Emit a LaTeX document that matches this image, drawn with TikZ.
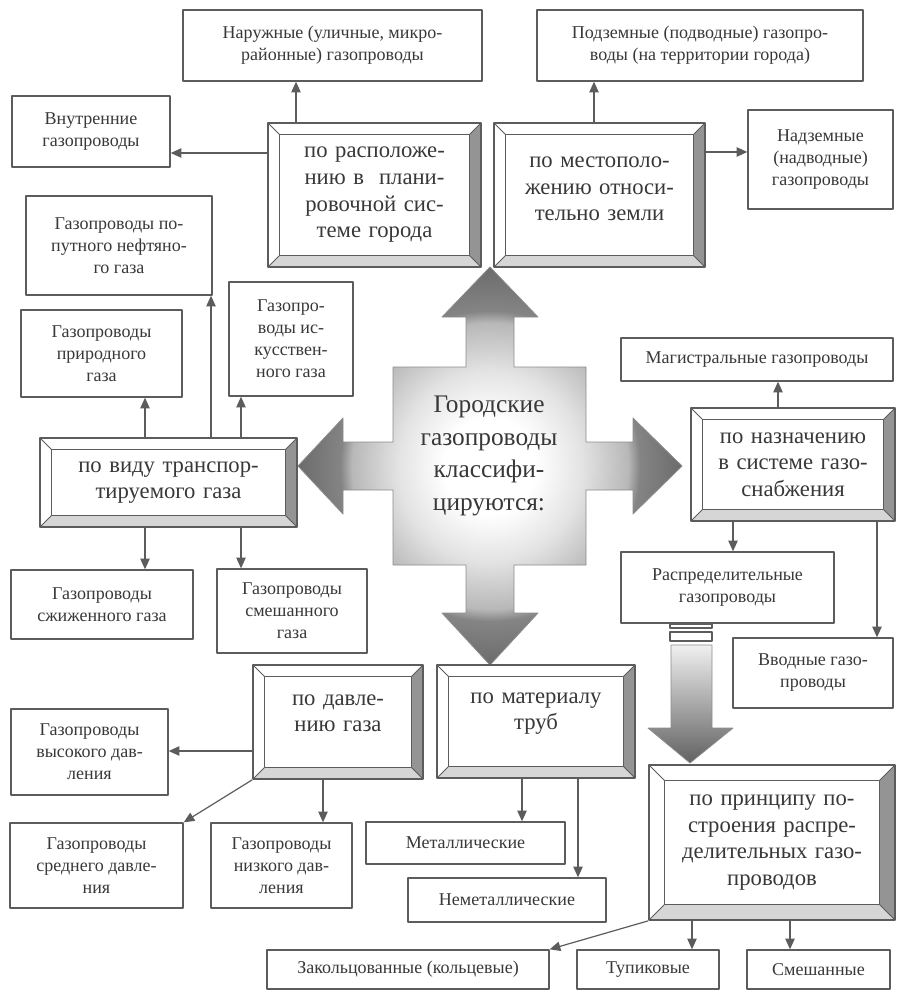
\documentclass[tikz,border=0pt]{standalone}
\usepackage{fontspec}
\setmainfont{Liberation Serif}
\usetikzlibrary{arrows.meta}
\definecolor{lin}{gray}{0.36}
\definecolor{txt}{gray}{0.22}
\pgfdeclareradialshading{crossshade}{\pgfpoint{0bp}{0bp}}{color(0bp)=(white); color(6bp)=(white); color(12bp)=(black!11); color(18bp)=(black!28); color(19.5bp)=(black!48); color(25bp)=(black!58); color(50bp)=(black!58)}
\begin{document}
\begin{tikzpicture}[x=0.75pt,y=-0.75pt,line join=round,
  >={Triangle[length=8pt,width=7pt]},
  box/.style={draw=lin,line width=1pt,fill=white,text=txt,align=center,inner sep=2pt,
    font=\fontsize{13.5}{16.5}\selectfont},
  bevel/.style={draw=lin,line width=1.3pt,fill=white,text=txt,align=center,inner sep=0pt,
    font=\fontsize{17}{20}\selectfont,
    path picture={
      \path (path picture bounding box.south west) coordinate (bsw)
            (path picture bounding box.north east) coordinate (bne)
            (bsw -| bne) coordinate (bse);
      \fill[black!42] (bne) -- ([shift={(-#1,-#1)}]bne) -- ([shift={(-#1,#1)}]bse) -- (bse) -- cycle;
      \fill[black!16] (bsw) -- ([shift={(#1,#1)}]bsw) -- ([shift={(-#1,#1)}]bse) -- (bse) -- cycle;
      \draw[lin,line width=1pt] ([shift={(#1,#1)}]bsw) rectangle ([shift={(-#1,-#1)}]bne);
      \draw[lin,line width=0.6pt] (bsw) -- ++(#1,#1) (bne) -- ++(-#1,-#1)
        (bse) -- ++(-#1,#1) (bsw |- bne) -- ++(#1,-#1);
    }},
  bevel/.default=8.5pt,
  toptext/.style={execute at end node={\endgraf\vspace*{#1}}},
  con/.style={draw=lin,line width=0.9pt,->}]
\useasboundingbox (0,0) rectangle (896,991);

% central cross
\shade[draw=black!45,line width=0.6pt,shading=crossshade]
  (490,267) -- (538,317) -- (514,317) -- (514,367) -- (586,367) -- (586,442) -- (633,442)
  -- (633,418) -- (682,466) -- (633,514) -- (633,490) -- (586,490) -- (586,565) -- (514,565)
  -- (514,613) -- (538,613) -- (490,665) -- (442,613) -- (466,613) -- (466,565) -- (393,565)
  -- (393,490) -- (343,490) -- (343,514) -- (298,466) -- (343,418) -- (343,442) -- (393,442)
  -- (393,367) -- (466,367) -- (466,317) -- (442,317) -- cycle;
\node[text=txt,align=center,font=\fontsize{19}{24.5}\selectfont] (title) at (489,456)
  {Городские\\газопроводы\\классифи-\\цируются:};

% groups
\node[bevel,minimum width=159.75pt,minimum height=108pt,text width=140pt] (raspol) at (374.5,195)
  {по расположе-\\нию в~~плани-\\ровочной сис-\\теме города};
\node[bevel,minimum width=158.25pt,minimum height=108pt,text width=140pt,toptext=9pt] (mesto) at (599.5,195)
  {по местополо-\\жению относи-\\тельно земли};
\node[bevel,minimum width=192.75pt,minimum height=66.75pt,text width=170pt] (vid) at (168.5,482.5)
  {по виду транспор-\\тируемого газа};
\node[bevel,minimum width=153pt,minimum height=84.75pt,text width=135pt] (nazn) at (793,464.5)
  {по назначению\\в системе газо-\\снабжения};
\node[bevel,minimum width=127.5pt,minimum height=85.5pt,text width=105pt,toptext=13pt] (davl) at (338,722)
  {по давле-\\нию газа};
\node[bevel,minimum width=148.5pt,minimum height=84.75pt,text width=125pt,toptext=12pt] (mater) at (536,721.5)
  {по материалу\\труб};
\node[bevel=11.5pt,minimum width=184.5pt,minimum height=116.25pt,text width=160pt] (princ) at (772,842.5)
  {по принципу по-\\строения распре-\\делительных газо-\\проводов};

% kinds
\node[box,minimum width=224.25pt,minimum height=53.25pt] (nar) at (332.5,45.5)
  {Наружные (уличные, микро-\\районные) газопроводы};
\node[box,minimum width=244.5pt,minimum height=53.25pt] (pod) at (700,45.5)
  {Подземные (подводные) газопро-\\воды (на территории города)};
\node[box,minimum width=118.5pt,minimum height=53.25pt] (vnut) at (91,131.5)
  {Внутренние\\газопроводы};
\node[box,minimum width=108.75pt,minimum height=74.25pt] (nadz) at (820.5,159.5)
  {Надземные\\(надводные)\\газопроводы};
\node[box,minimum width=139.5pt,minimum height=74.25pt] (popu) at (119,245.5)
  {Газопроводы по-\\путного нефтяно-\\го газа};
\node[box,minimum width=120.75pt,minimum height=65.25pt] (prir) at (101.5,353.5)
  {Газопроводы\\природного\\газа};
\node[box,minimum width=93pt,minimum height=85.5pt] (isk) at (291,339)
  {Газопро-\\воды ис-\\кусствен-\\ного газа};
\node[box,minimum width=136.5pt,minimum height=51.75pt] (szhi) at (102,604.5)
  {Газопроводы\\сжиженного газа};
\node[box,minimum width=112.5pt,minimum height=63pt] (mixgas) at (292,611)
  {Газопроводы\\смешанного\\газа};
\node[box,minimum width=204pt,minimum height=32.25pt] (mag) at (757,359.5)
  {Магистральные газопроводы};
\node[box,minimum width=159.75pt,minimum height=53.25pt] (rasp) at (727.5,587.5)
  {Распределительные\\газопроводы};
\node[box,minimum width=120pt,minimum height=52.5pt] (vvod) at (813,673)
  {Вводные газо-\\проводы};
\node[box,minimum width=117.75pt,minimum height=64.5pt] (vys) at (89.5,752)
  {Газопроводы\\высокого дав-\\ления};
\node[box,minimum width=129.75pt,minimum height=63.75pt] (sred) at (96.5,865.5)
  {Газопроводы\\среднего давле-\\ния};
\node[box,minimum width=105.75pt,minimum height=63.75pt] (niz) at (281.5,865.5)
  {Газопроводы\\низкого дав-\\ления};
\node[box,minimum width=149.25pt,minimum height=31.5pt] (met) at (465.5,843)
  {Металлические};
\node[box,minimum width=148.5pt,minimum height=33pt] (nemet) at (507,900)
  {Неметаллические};
\node[box,minimum width=211.5pt,minimum height=29.25pt] (zak) at (408,969.5)
  {Закольцованные (кольцевые)};
\node[box,minimum width=106.5pt,minimum height=29.25pt] (tup) at (648,969.5)
  {Тупиковые};
\node[box,minimum width=107.25pt,minimum height=29.25pt] (mixed) at (818.5,969.5)
  {Смешанные};

% thick arrow under rasp
\draw[lin,line width=0.8pt,fill=white] (670,624) rectangle (712,628);
\draw[lin,line width=0.8pt,fill=white] (670,632) rectangle (712,641);
\shade[draw=black!45,line width=0.6pt,top color=black!6,bottom color=black!62]
  (671,645) -- (712,645) -- (712,728) -- (733,728) -- (690,763) -- (648,728) -- (671,728) -- cycle;

% connectors
\draw[con] (raspol.north -| 296,0) -- (nar.south -| 296,0);
\draw[con] (raspol.west |- 0,153) -- (vnut.east |- 0,153);
\draw[con] (mesto.north -| 594,0) -- (pod.south -| 594,0);
\draw[con] (mesto.east |- 0,152) -- (nadz.west |- 0,152);
\draw[con] (vid.north -| 145,0) -- (prir.south -| 145,0);
\draw[con] (vid.north -| 211,0) -- (popu.south -| 211,0);
\draw[con] (vid.north -| 241,0) -- (isk.south -| 241,0);
\draw[con] (vid.south -| 145,0) -- (szhi.north -| 145,0);
\draw[con] (vid.south -| 241,0) -- (mixgas.north -| 241,0);
\draw[con] (nazn.north -| 778,0) -- (mag.south -| 778,0);
\draw[con] (nazn.south -| 733,0) -- (rasp.north -| 733,0);
\draw[con] (nazn.south -| 877,0) -- (vvod.north -| 877,0);
\draw[con] (davl.west |- 0,751) -- (vys.east |- 0,751);
\draw[con] (davl.south west) -- (sred.north east);
\draw[con] (davl.south -| 323,0) -- (niz.north -| 323,0);
\draw[con] (mater.south -| 522,0) -- (met.north -| 522,0);
\draw[con] (mater.south -| 578,0) -- (nemet.north -| 578,0);
\draw[con] (princ.south west) -- (zak.north east);
\draw[con] (princ.south -| 692,0) -- (tup.north -| 692,0);
\draw[con] (princ.south -| 790,0) -- (mixed.north -| 790,0);
\end{tikzpicture}
\end{document}
